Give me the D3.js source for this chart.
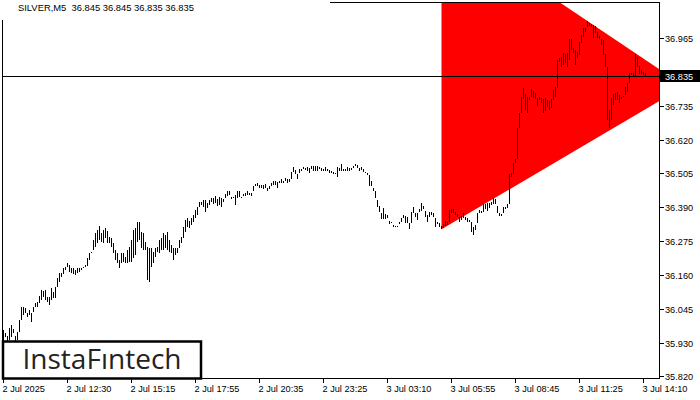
<!DOCTYPE html>
<html><head><meta charset="utf-8">
<script src="https://cdn.jsdelivr.net/npm/d3@7"></script>
<style>html,body{margin:0;padding:0;background:#fff;overflow:hidden} svg{display:block} text{white-space:pre}</style>
</head><body><svg id="c" width="700" height="400"></svg>
<script>
const symbol = "SILVER,M5";
const lastBar = [36.845, 36.845, 36.835, 36.835];
const highs = [
35.975,35.965,35.955,35.982,35.992,35.979,35.955,35.969,36.009,36.053,
36.053,36.050,36.033,36.043,36.033,36.053,36.067,36.070,36.091,36.111,
36.107,36.111,36.087,36.087,36.117,36.104,36.121,36.151,36.168,36.168,
36.185,36.189,36.202,36.196,36.185,36.185,36.179,36.185,36.185,36.185,
36.189,36.196,36.219,36.236,36.239,36.280,36.304,36.314,36.328,36.304,
36.314,36.321,36.311,36.290,36.287,36.270,36.246,36.236,36.212,36.236,
36.236,36.222,36.246,36.256,36.280,36.314,36.321,36.341,36.341,36.307,
36.304,36.273,36.256,36.253,36.253,36.239,36.253,36.256,36.280,36.287,
36.304,36.297,36.307,36.280,36.263,36.253,36.253,36.253,36.280,36.290,
36.324,36.348,36.355,36.344,36.355,36.365,36.382,36.392,36.409,36.409,
36.416,36.416,36.405,36.416,36.422,36.422,36.429,36.419,36.426,36.421,
36.418,36.436,36.444,36.444,36.427,36.427,36.433,36.446,36.444,36.427,
36.436,36.438,36.446,36.438,36.440,36.461,36.469,36.472,36.466,36.465,
36.466,36.470,36.457,36.461,36.472,36.480,36.481,36.477,36.481,36.487,
36.480,36.489,36.486,36.487,36.511,36.528,36.517,36.503,36.521,36.520,
36.528,36.523,36.528,36.523,36.531,36.531,36.531,36.531,36.528,36.522,
36.520,36.526,36.520,36.517,36.515,36.511,36.508,36.528,36.523,36.537,
36.520,36.520,36.528,36.523,36.523,36.531,36.537,36.534,36.523,36.526,
36.520,36.511,36.506,36.500,36.481,36.455,36.446,36.416,36.395,36.371,
36.388,36.368,36.365,36.345,36.342,36.331,36.328,36.328,36.342,36.354,
36.365,36.362,36.359,36.337,36.373,36.391,36.371,36.371,36.384,36.404,
36.395,36.379,36.365,36.376,36.376,36.371,36.354,36.342,36.337,36.328,
36.334,36.345,36.342,36.382,36.384,36.384,36.376,36.368,36.359,36.361,
36.371,36.359,36.354,36.348,36.342,36.325,36.331,36.371,36.382,36.379,
36.402,36.402,36.404,36.406,36.410,36.423,36.418,36.395,36.371,36.368,
36.391,36.393,36.402,36.504,36.506,36.540,36.553,36.658,36.709,36.765,
36.794,36.775,36.765,36.765,36.790,36.786,36.777,36.760,36.763,36.760,
36.757,36.760,36.754,36.752,36.757,36.788,36.797,36.890,36.895,36.901,
36.912,36.910,36.912,36.960,36.960,36.929,36.923,36.918,36.952,36.974,
36.997,36.997,37.023,37.016,37.011,37.008,37.005,36.985,36.971,36.960,
36.957,36.910,36.867,36.720,36.760,36.775,36.777,36.782,36.771,36.765,
36.768,36.797,36.811,36.845,36.847,36.847,36.910,36.899,36.869,36.856,36.850,36.845];
const lows = [
35.935,35.952,35.938,35.942,35.952,35.965,35.928,35.942,35.969,36.009,
36.026,36.033,36.019,36.026,36.002,36.036,36.053,36.053,36.067,36.077,
36.087,36.077,36.070,36.060,36.077,36.084,36.084,36.121,36.138,36.155,
36.165,36.179,36.189,36.172,36.168,36.165,36.162,36.168,36.172,36.179,
36.185,36.189,36.192,36.212,36.236,36.246,36.256,36.270,36.280,36.273,
36.270,36.287,36.270,36.270,36.256,36.236,36.212,36.202,36.185,36.202,
36.206,36.202,36.202,36.206,36.206,36.219,36.229,36.273,36.280,36.253,
36.246,36.246,36.145,36.138,36.189,36.202,36.222,36.239,36.236,36.246,
36.246,36.253,36.246,36.239,36.236,36.212,36.229,36.236,36.253,36.270,
36.287,36.307,36.324,36.321,36.331,36.341,36.355,36.365,36.392,36.399,
36.392,36.375,36.389,36.399,36.409,36.402,36.405,36.395,36.399,36.393,
36.410,36.421,36.429,36.433,36.418,36.421,36.399,36.423,36.427,36.421,
36.429,36.429,36.433,36.433,36.429,36.444,36.461,36.464,36.455,36.455,
36.453,36.455,36.447,36.452,36.461,36.466,36.466,36.457,36.472,36.472,
36.474,36.480,36.474,36.476,36.486,36.509,36.504,36.487,36.506,36.514,
36.520,36.517,36.515,36.506,36.520,36.515,36.514,36.515,36.520,36.515,
36.515,36.515,36.514,36.508,36.508,36.504,36.503,36.494,36.515,36.515,
36.515,36.515,36.515,36.515,36.517,36.523,36.532,36.523,36.515,36.517,
36.511,36.506,36.500,36.461,36.461,36.447,36.421,36.393,36.373,36.350,
36.350,36.351,36.354,36.334,36.337,36.325,36.323,36.325,36.334,36.342,
36.354,36.337,36.337,36.316,36.337,36.371,36.357,36.348,36.373,36.379,
36.384,36.359,36.342,36.359,36.365,36.359,36.325,36.334,36.323,36.316,
36.320,36.328,36.331,36.342,36.371,36.371,36.365,36.359,36.339,36.348,
36.354,36.348,36.342,36.342,36.308,36.297,36.314,36.337,36.371,36.371,
36.376,36.384,36.379,36.387,36.399,36.402,36.402,36.371,36.361,36.361,
36.371,36.384,36.387,36.402,36.494,36.504,36.540,36.553,36.658,36.709,
36.757,36.720,36.709,36.754,36.765,36.760,36.757,36.734,36.754,36.743,
36.709,36.715,36.729,36.720,36.726,36.754,36.765,36.794,36.884,36.867,
36.873,36.878,36.867,36.890,36.923,36.912,36.873,36.895,36.906,36.946,
36.968,36.985,37.002,37.005,37.002,36.963,36.980,36.963,36.960,36.940,
36.906,36.867,36.686,36.658,36.686,36.737,36.754,36.754,36.745,36.757,
36.763,36.771,36.782,36.811,36.839,36.835,36.835,36.867,36.842,36.842,36.839,36.835];
const timeLabels = ["2 Jul 2025","2 Jul 12:30","2 Jul 15:15","2 Jul 17:55","2 Jul 20:35","2 Jul 23:25","3 Jul 03:10","3 Jul 05:55","3 Jul 08:45","3 Jul 11:25","3 Jul 14:10"];
const timeTickBars = [0,32,64,96,128,160,192,224,256,288,320];
const priceTicks = [36.965,36.850,36.735,36.620,36.505,36.390,36.275,36.160,36.045,35.930,35.820];
const lastPrice = 36.835;
const triangleBars = [219, 219, 340.6];
const trianglePrices = [37.353, 36.316, 36.801];
const brand = "InstaF\u0131ntech";

const svg = d3.select('#c');
const L = 2, T = 2, R = 659, B = 378;
const FONT = "'Liberation Sans', Arial, sans-serif";
const x = d3.scaleLinear().domain([0, highs.length - 1]).range([3.5, 645.5]);
const y = d3.scaleLinear().domain([35.820, 36.965]).range([375.7, 37.7]);

svg.append('defs').append('clipPath').attr('id','plot')
  .append('rect').attr('x', L).attr('y', T).attr('width', R - L).attr('height', B - T);

const plot = svg.append('g').attr('clip-path','url(#plot)');

// triangle pattern
plot.append('polygon')
  .attr('points', triangleBars.map((b,i) => [x(b), y(trianglePrices[i])].join(',')).join(' '))
  .attr('fill', '#ff0000');

// bars (high-low)
plot.append('g').selectAll('rect').data(highs).join('rect')
  .attr('x', (d,i) => Math.floor(x(i)))
  .attr('y', d => Math.round(y(d)))
  .attr('width', 1)
  .attr('height', (d,i) => Math.max(1, Math.round(y(lows[i])) - Math.round(y(d))))
  .attr('fill', '#000')
  .attr('shape-rendering','crispEdges');

// current price line
const py = Math.round(y(lastPrice)) + 0.5;
svg.append('line').attr('x1', L).attr('x2', R).attr('y1', py).attr('y2', py)
  .attr('stroke', '#000').attr('stroke-width', 1).attr('shape-rendering','crispEdges');

// frame
svg.append('rect').attr('x', L + 0.5).attr('y', T + 0.5).attr('width', R - L).attr('height', B - T)
  .attr('fill', 'none').attr('stroke', '#000').attr('shape-rendering','crispEdges');

// title area
svg.append('rect').attr('x', 0).attr('y', 0).attr('width', 330).attr('height', 20).attr('fill', '#fff');
svg.append('text').attr('x', 18).attr('y', 11)
  .attr('font-family', FONT).attr('font-size', 9.4).attr('fill', '#000')
  .text(symbol + "  " + lastBar.map(v => v.toFixed(3)).join(' '));

// right axis
const ya = svg.append('g');
priceTicks.forEach(v => {
  const ty = Math.round(y(v)) + 0.5;
  ya.append('line').attr('x1', R + 1).attr('x2', R + 5).attr('y1', ty).attr('y2', ty)
    .attr('stroke', '#000').attr('shape-rendering','crispEdges');
  ya.append('text').attr('x', 665).attr('y', ty + 3.5)
    .attr('font-family', FONT).attr('font-size', 9.2).attr('fill', '#000')
    .text(v.toFixed(3));
});

// price label
svg.append('rect').attr('x', R + 1).attr('y', py - 6.5).attr('width', 700 - R).attr('height', 12).attr('fill', '#000');
svg.append('text').attr('x', 665).attr('y', py + 3.5)
  .attr('font-family', FONT).attr('font-size', 9.2).attr('fill', '#fff').text(lastPrice.toFixed(3));

// bottom axis
const xa = svg.append('g');
timeTickBars.forEach((b,i) => {
  const tx = x(b);
  xa.append('line').attr('x1', tx).attr('x2', tx).attr('y1', B + 1).attr('y2', B + 5)
    .attr('stroke', '#000').attr('shape-rendering','crispEdges');
  xa.append('text').attr('x', tx - 1).attr('y', 392)
    .attr('font-family', FONT).attr('font-size', 9.2).attr('fill', '#000')
    .text(timeLabels[i]);
});

// brand box
svg.append('rect').attr('x', 3).attr('y', 341.5).attr('width', 198).attr('height', 37)
  .attr('fill', '#fff').attr('stroke', '#000').attr('stroke-width', 2.5);
svg.append('text').attr('x', 22.5).attr('y', 368.5)
  .attr('font-family', "'Open Sans', sans-serif").attr('font-size', 26.5).attr('font-weight', 500)
  .attr('fill', '#222').attr('textLength', 159).attr('lengthAdjust', 'spacingAndGlyphs')
  .text(brand);
</script></body></html>
